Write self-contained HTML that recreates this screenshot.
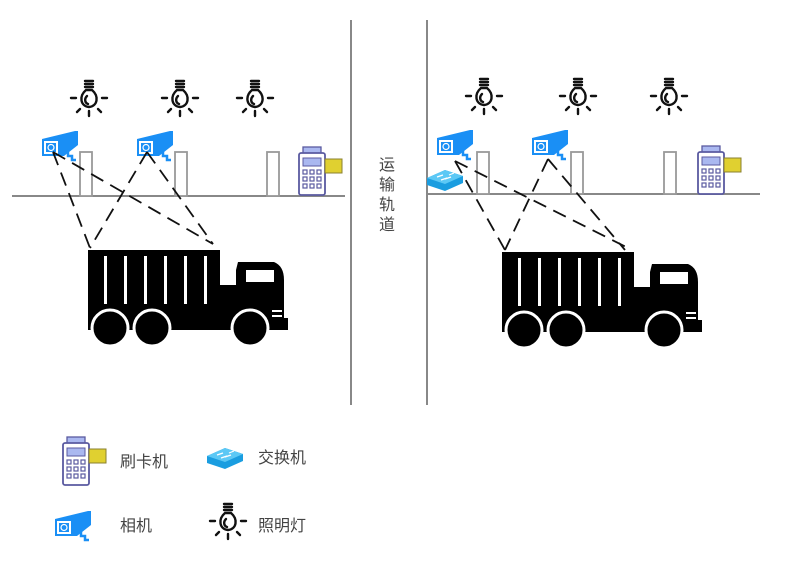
<!DOCTYPE html>
<html><head><meta charset="utf-8"><style>
html,body{margin:0;padding:0;background:#fff;}
svg{display:block;}
text{font-family:"Liberation Sans","Noto Sans CJK SC",sans-serif;fill:#444;}
</style></head><body>
<svg width="800" height="580" viewBox="0 0 800 580" xmlns="http://www.w3.org/2000/svg">
<defs>
<g id="bulb" stroke="#111" stroke-width="2.4" fill="none" stroke-linecap="round">
 <line x1="-4" y1="-18" x2="4" y2="-18"/><line x1="-4" y1="-15" x2="4" y2="-15"/><line x1="-4" y1="-12" x2="4" y2="-12"/>
 <path d="M-3,-9 C-10,-3 -9,7 0,8 C9,7 10,-3 3,-9 Z" fill="#fff"/>
 <path d="M-2,-3 C-5,0 -4,4 -1,5" />
 <line x1="-18" y1="-1" x2="-13" y2="-1"/><line x1="13" y1="-1" x2="18" y2="-1"/>
 <line x1="-12" y1="13" x2="-9" y2="10"/><line x1="12" y1="13" x2="9" y2="10"/>
 <line x1="0" y1="12" x2="0" y2="17"/>
</g>
<g id="cam">
 <path d="M0,8 L33,0 L36,0 L36,14 L22,25 L0,25 Z" fill="#1a8ff5"/>
 <rect x="2" y="10" width="14" height="13" fill="#fff"/>
 <rect x="4" y="12" width="10" height="9" fill="#1a8ff5"/>
 <circle cx="9" cy="16.5" r="3" fill="none" stroke="#fff" stroke-width="1.2"/>
 <path d="M26,19 L26,25 L30,25 L30,29 L34,29" stroke="#1a8ff5" stroke-width="2.5" fill="none"/>
</g>
<g id="pos">
 <rect x="5" y="0" width="18" height="9" fill="#aab8f0" stroke="#5a5aa0" stroke-width="1.3"/>
 <rect x="1" y="6" width="26" height="42" rx="2" fill="#fff" stroke="#5a5aa0" stroke-width="1.8"/>
 <rect x="5" y="11" width="18" height="8" fill="#aab8f0" stroke="#5a5aa0" stroke-width="1"/>
 <g fill="#fff" stroke="#5a5aa0" stroke-width="1.2">
 <rect x="5" y="23" width="4" height="4"/><rect x="12" y="23" width="4" height="4"/><rect x="19" y="23" width="4" height="4"/>
 <rect x="5" y="30" width="4" height="4"/><rect x="12" y="30" width="4" height="4"/><rect x="19" y="30" width="4" height="4"/>
 <rect x="5" y="37" width="4" height="4"/><rect x="12" y="37" width="4" height="4"/><rect x="19" y="37" width="4" height="4"/></g>
 <rect x="27" y="12" width="17" height="14" fill="#e0d030" stroke="#8a8030" stroke-width="1"/>
</g>
<g id="sw">
 <path d="M0,10 L18,2 L36,8 L36,15 L18,23 L0,17 Z" fill="#1a9de0"/>
 <path d="M0,10 L18,2 L36,8 L18,16 Z" fill="#5cc8f5"/>
 <path d="M10,9 l6,-2 M18,11 l6,-2 M14,12 l6,-2 M22,7 l5,-2" stroke="#fff" stroke-width="1.2"/>
</g>
<g id="truck" fill="#000">
 <rect x="0" y="0" width="132" height="60"/>
 <g fill="#fff"><rect x="16" y="6" width="3" height="48"/><rect x="36" y="6" width="3" height="48"/><rect x="56" y="6" width="3" height="48"/><rect x="76" y="6" width="3" height="48"/><rect x="96" y="6" width="3" height="48"/><rect x="116" y="6" width="3" height="48"/></g>
 <rect x="0" y="60" width="150" height="10"/>
 <rect x="132" y="35" width="18" height="30"/>
 <path d="M148,20 L150,12 L186,12 Q196,16 196,30 L196,80 L148,80 Z"/>
 <path d="M158,20 L186,20 L186,32 L158,32 Z" fill="#fff"/>
 <g fill="#fff"><rect x="184" y="60" width="10" height="2"/><rect x="184" y="65" width="10" height="2"/><rect x="184" y="70" width="10" height="2"/></g>
 <rect x="0" y="68" width="200" height="12"/>
 <circle cx="22" cy="78" r="18" stroke="#fff" stroke-width="3"/>
 <circle cx="64" cy="78" r="18" stroke="#fff" stroke-width="3"/>
 <circle cx="162" cy="78" r="18" stroke="#fff" stroke-width="3"/>
</g>
</defs>

<g stroke="#888" stroke-width="2">
 <line x1="351" y1="20" x2="351" y2="405"/>
 <line x1="427" y1="20" x2="427" y2="405"/>
 <line x1="12" y1="196" x2="345" y2="196"/>
 <line x1="427" y1="194" x2="760" y2="194"/>
</g>
<g font-size="16"><text x="379" y="170">运</text><text x="379" y="190">输</text><text x="379" y="210">轨</text><text x="379" y="230">道</text></g>

<!-- left -->
<use href="#bulb" x="89" y="99"/><use href="#bulb" x="180" y="99"/><use href="#bulb" x="255" y="99"/>
<g fill="#fff" stroke="#999" stroke-width="1.8">
<rect x="80" y="152" width="12" height="44"/><rect x="175" y="152" width="12" height="44"/><rect x="267" y="152" width="12" height="44"/>
</g>
<use href="#cam" x="42" y="131"/><use href="#cam" x="137" y="131"/>
<use href="#pos" x="298" y="147"/>
<use href="#truck" x="88" y="250"/>
<g stroke="#111" stroke-width="1.8" stroke-dasharray="14,8" fill="none">
 <line x1="53" y1="152" x2="90" y2="248"/><line x1="53" y1="152" x2="213" y2="244"/>
 <line x1="147" y1="152" x2="90" y2="248"/><line x1="147" y1="152" x2="213" y2="244"/>
</g>

<!-- right -->
<use href="#bulb" x="484" y="97"/><use href="#bulb" x="578" y="97"/><use href="#bulb" x="669" y="97"/>
<g fill="#fff" stroke="#999" stroke-width="1.8">
<rect x="477" y="152" width="12" height="42"/><rect x="571" y="152" width="12" height="42"/><rect x="664" y="152" width="12" height="42"/>
</g>
<use href="#cam" x="437" y="130"/><use href="#cam" x="532" y="130"/>
<use href="#sw" x="427" y="168"/>
<use href="#pos" x="697" y="146"/>
<use href="#truck" x="502" y="252"/>
<g stroke="#111" stroke-width="1.8" stroke-dasharray="14,8" fill="none">
 <line x1="455" y1="161" x2="505" y2="250"/><line x1="455" y1="161" x2="630" y2="249"/>
 <line x1="548" y1="159" x2="505" y2="250"/><line x1="548" y1="159" x2="625" y2="250"/>
</g>

<!-- legend -->
<use href="#pos" x="62" y="437"/>
<text x="120" y="467" font-size="16">刷卡机</text>
<use href="#sw" x="207" y="446"/>
<text x="258" y="463" font-size="16">交换机</text>
<use href="#cam" x="55" y="511"/>
<text x="120" y="531" font-size="16">相机</text>
<use href="#bulb" x="228" y="522"/>
<text x="258" y="531" font-size="16">照明灯</text>
</svg>
</body></html>
